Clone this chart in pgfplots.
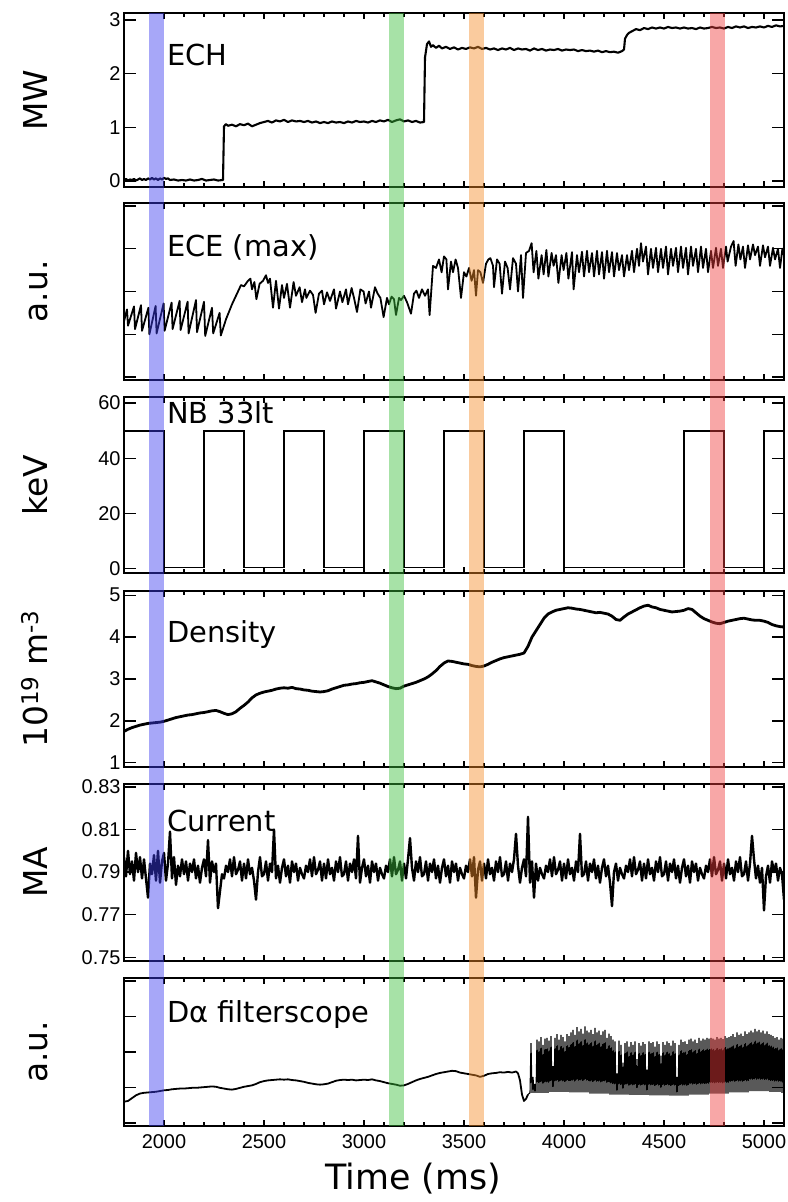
\documentclass[border=0pt]{standalone}
\usepackage{fontspec}
\setmainfont{DejaVu Sans}
\newfontfamily\tickfont{Liberation Sans}
\usepackage{pgfplots}
\pgfplotsset{compat=1.18}
\definecolor{bblue}{RGB}{60,60,240}
\definecolor{bgreen}{RGB}{60,190,60}
\definecolor{borange}{RGB}{245,140,40}
\definecolor{bred}{RGB}{240,60,60}
\tikzset{lab/.style={anchor=base west, font=\fontsize{29}{30}\selectfont, inner sep=0pt}}
\pgfplotsset{
  panel/.style={
    scale only axis, width=660bp, xmin=1800, xmax=5100,
    xtick={2000,2500,3000,3500,4000,4500,5000},
    minor x tick num=4,
    xticklabels={},
    axis line style={line width=1.6bp},
    every tick/.style={black, line width=1.3bp},
    major tick length=12bp, minor tick length=4bp,
    xtick style={/pgfplots/major tick length=6bp},
    tick label style={font=\tickfont\fontsize{20}{20}\selectfont},
    /pgf/number format/assume math mode=true,
    ylabel style={at={(rel axis cs:-0.1152,0.5)}, anchor=base, font=\fontsize{33}{34}\selectfont},
    anchor=south west,
  },
}
\begin{document}
\begin{tikzpicture}
\useasboundingbox (0bp,0bp) rectangle (788bp,1202bp);
% ---------------- ECH
\begin{axis}[panel, at={(124bp,1015bp)}, height=174bp, ymin=-0.11, ymax=3.13,
  ytick={0,1,2,3}, ylabel={MW}]
\addplot[black, line width=2.1bp, line join=round] table[row sep=\\] {x y\\
1800 0.02\\1810 0.04\\1820 0.01\\1830 0.03\\1840 0.02\\1850 0.04\\1860 0.01\\1870 0.03\\1880 0.05\\1890 0.02\\
1900 0.04\\1910 0.02\\1920 0.05\\1930 0.03\\1940 0.06\\1950 0.03\\1960 0.05\\1970 0.02\\1980 0.05\\1990 0.03\\
2000 0.06\\2010 0.04\\2020 0.05\\2030 0.02\\2050 0.03\\2070 0.01\\2090 0.02\\2110 0.01\\2130 0.03\\2150 0.01\\
2170 0.02\\2190 0.04\\2210 0.01\\2230 0.02\\2250 0.03\\2270 0.01\\2295 0.02\\2300 1.02\\2310 1.06\\2320 1.03\\
2340 1.05\\2360 1.02\\2380 1.06\\2400 1.04\\2420 1.07\\2440 1.02\\2460 1.05\\2480 1.08\\2500 1.10\\2520 1.12\\
2540 1.09\\2560 1.13\\2580 1.11\\2600 1.14\\2620 1.10\\2640 1.13\\2660 1.11\\2680 1.12\\2700 1.10\\2720 1.12\\
2740 1.09\\2760 1.11\\2780 1.08\\2800 1.10\\2820 1.08\\2840 1.11\\2860 1.09\\2880 1.10\\2900 1.08\\2920 1.11\\
2940 1.09\\2960 1.12\\2980 1.10\\3000 1.11\\3020 1.09\\3040 1.12\\3060 1.10\\3080 1.13\\3100 1.11\\3120 1.14\\
3140 1.10\\3160 1.13\\3180 1.15\\3200 1.11\\3220 1.13\\3240 1.10\\3260 1.12\\3280 1.09\\3300 1.10\\3305 2.30\\
3315 2.55\\3325 2.60\\3335 2.50\\3345 2.53\\3360 2.48\\3375 2.52\\3390 2.47\\3410 2.50\\3430 2.46\\3450 2.49\\
3470 2.45\\3490 2.48\\3510 2.46\\3530 2.49\\3550 2.47\\3570 2.50\\3590 2.46\\3610 2.48\\3630 2.45\\3650 2.47\\
3670 2.44\\3690 2.47\\3710 2.45\\3730 2.48\\3750 2.44\\3770 2.47\\3790 2.45\\3810 2.46\\3830 2.43\\3850 2.47\\
3870 2.44\\3890 2.46\\3910 2.43\\3930 2.45\\3950 2.44\\3970 2.46\\3990 2.43\\4010 2.45\\4030 2.44\\4050 2.45\\
4070 2.42\\4090 2.44\\4110 2.42\\4130 2.43\\4150 2.41\\4170 2.43\\4190 2.40\\4210 2.42\\4230 2.40\\4250 2.41\\
4270 2.39\\4290 2.42\\4300 2.45\\4305 2.65\\4315 2.72\\4325 2.76\\4340 2.79\\4360 2.83\\4380 2.81\\4400 2.85\\
4420 2.83\\4440 2.86\\4460 2.84\\4480 2.86\\4500 2.84\\4520 2.87\\4540 2.85\\4560 2.86\\4580 2.84\\4600 2.86\\
4620 2.84\\4640 2.85\\4660 2.83\\4680 2.86\\4700 2.84\\4720 2.85\\4740 2.87\\4760 2.85\\4780 2.86\\4800 2.84\\
4820 2.87\\4840 2.85\\4860 2.88\\4880 2.86\\4900 2.88\\4920 2.85\\4940 2.87\\4960 2.86\\4980 2.88\\5000 2.86\\
5020 2.89\\5040 2.87\\5060 2.90\\5080 2.88\\5100 2.89\\
};
\node[lab] at (rel axis cs:0.065,0.701) {ECH};
\coordinate (TOP) at (rel axis cs:0,1);
\end{axis}
% ---------------- ECE
\begin{axis}[panel, at={(124bp,822bp)}, height=177bp, ymin=-0.07, ymax=4.07,
  ytick={0,1,2,3,4}, yticklabels={}, ylabel={a.u.}]
\addplot[black, line width=1.8bp, line join=round] table[row sep=\\] {x y\\
1800 1.30\\1815 1.58\\1820 1.20\\1850 1.65\\1855 1.12\\1885 1.68\\1890 1.08\\1922 1.62\\1927 1.00\\1958 1.66\\
1963 1.02\\1998 1.72\\2003 1.08\\2038 1.74\\2043 1.12\\2078 1.78\\2083 1.10\\2118 1.76\\2123 1.02\\2160 1.80\\
2165 1.05\\2200 1.76\\2206 0.96\\2240 1.62\\2246 1.02\\2278 1.50\\2284 0.97\\2310 1.35\\2340 1.70\\2365 1.95\\
2385 2.15\\2400 2.12\\2420 2.25\\2432 2.30\\2440 2.05\\2452 2.22\\2462 1.82\\2478 2.18\\2495 2.25\\2510 2.38\\
2520 2.20\\2530 2.30\\2545 1.62\\2560 2.25\\2575 1.60\\2590 2.15\\2600 1.85\\2615 2.18\\2630 1.62\\2648 2.22\\
2660 1.90\\2678 2.10\\2690 1.75\\2705 2.05\\2712 1.85\\2730 2.02\\2745 1.92\\2758 1.50\\2775 1.95\\2790 2.02\\
2800 1.70\\2815 1.98\\2830 1.78\\2850 2.05\\2860 1.60\\2880 2.00\\2892 1.75\\2910 2.05\\2920 1.70\\2938 2.08\\
2950 1.85\\2965 1.52\\2982 2.05\\2998 2.00\\3008 1.72\\3025 2.00\\3035 1.62\\3055 2.10\\3068 1.95\\3082 1.85\\
3098 1.40\\3115 1.85\\3125 1.70\\3138 1.88\\3150 1.82\\3160 1.45\\3175 1.85\\3185 1.80\\3200 1.90\\3215 1.75\\
3235 1.48\\3250 1.95\\3262 2.02\\3275 1.85\\3290 2.05\\3305 1.90\\3320 2.05\\3328 1.45\\3345 2.60\\3360 2.55\\
3375 2.75\\3388 2.45\\3400 2.82\\3412 2.75\\3420 2.05\\3435 2.70\\3445 2.45\\3458 2.75\\3470 2.55\\3485 1.85\\
3500 2.45\\3512 2.35\\3525 2.55\\3538 2.25\\3550 2.50\\3560 1.90\\3570 2.50\\3582 2.45\\3595 2.20\\3610 2.65\\
3622 2.75\\3632 2.78\\3645 2.60\\3650 2.10\\3665 2.75\\3678 2.65\\3690 1.95\\3705 2.70\\3718 2.55\\3730 2.05\\
3745 2.78\\3760 2.65\\3770 2.00\\3785 2.85\\3795 1.85\\3810 2.90\\3825 2.95\\3838 3.13\\3848 2.45\\3862 2.95\\
3872 2.30\\3888 2.85\\3898 2.40\\3912 2.97\\3922 2.35\\3938 2.90\\3948 2.60\\3960 2.85\\3972 2.20\\3988 2.85\\
3998 2.50\\4012 2.90\\4022 2.30\\4040 2.92\\4048 2.05\\4065 2.85\\4075 2.45\\4090 2.93\\4100 2.35\\4115 2.95\\
4125 2.45\\4140 2.90\\4150 2.35\\4165 2.95\\4175 2.40\\4190 2.92\\4200 2.30\\4215 2.95\\4225 2.45\\4240 2.92\\
4250 2.35\\4265 2.90\\4275 2.50\\4290 2.85\\4300 2.35\\4315 2.85\\4325 2.50\\4340 2.95\\4350 2.45\\4365 3.00\\
4375 2.60\\4385 3.13\\4395 2.70\\4410 3.05\\4420 2.40\\4435 3.00\\4445 2.55\\4460 3.02\\4470 2.45\\4485 3.00\\
4495 2.55\\4510 3.05\\4520 2.40\\4535 3.00\\4545 2.60\\4560 3.02\\4570 2.45\\4585 3.05\\4595 2.55\\4610 3.02\\
4620 2.40\\4635 3.05\\4645 2.60\\4660 3.00\\4670 2.45\\4685 3.05\\4695 2.55\\4710 3.00\\4720 2.45\\4735 2.95\\
4745 2.55\\4760 3.02\\4770 2.60\\4785 3.00\\4795 2.55\\4810 3.05\\4818 2.70\\4835 3.05\\4848 3.18\\4858 2.60\\
4872 3.10\\4882 2.75\\4895 3.05\\4905 2.55\\4920 3.08\\4930 2.75\\4945 3.10\\4955 2.85\\4970 3.05\\4980 2.60\\
4995 3.08\\5005 2.80\\5020 3.05\\5030 2.60\\5045 3.02\\5055 2.75\\5070 3.00\\5080 2.55\\5092 3.00\\5100 2.85\\
};
\node[lab] at (rel axis cs:0.065,0.695) {ECE (max)};
\end{axis}
% ---------------- NB
\begin{axis}[panel, at={(124bp,629bp)}, height=176bp, ymin=-1.5, ymax=62.2,
  ytick={0,20,40,60}, ylabel={keV}]
\addplot[black, line width=1.9bp] table[row sep=\\] {x y\\
1800 50\\2000 50\\2000 0.5\\2200 0.5\\2200 50\\2400 50\\2400 0.5\\2600 0.5\\2600 50\\2800 50\\
2800 0.5\\3000 0.5\\3000 50\\3200 50\\3200 0.5\\3400 0.5\\3400 50\\3600 50\\3600 0.5\\3800 0.5\\
3800 50\\4000 50\\4000 0.5\\4600 0.5\\4600 50\\4800 50\\4800 0.5\\5000 0.5\\5000 50\\5100 50\\
};
\node[lab] at (rel axis cs:0.065,0.852) {NB 33lt};
\end{axis}
% ---------------- Density
\begin{axis}[panel, at={(124bp,435bp)}, height=176bp, ymin=0.9, ymax=5.1,
  ytick={1,2,3,4,5}, ylabel={10\textsuperscript{19} m\textsuperscript{-3}}]
\addplot[black, line width=2.8bp, line join=round] table[row sep=\\] {x y\\
1800 1.75\\1820 1.80\\1840 1.84\\1860 1.87\\1880 1.90\\1900 1.92\\1920 1.94\\1940 1.95\\1960 1.96\\1980 1.97\\
2000 1.99\\2020 2.02\\2040 2.05\\2060 2.08\\2080 2.10\\2100 2.12\\2120 2.14\\2140 2.15\\2160 2.17\\2180 2.19\\
2200 2.20\\2220 2.22\\2240 2.24\\2260 2.25\\2280 2.22\\2300 2.18\\2320 2.15\\2340 2.17\\2360 2.22\\2380 2.30\\
2400 2.37\\2420 2.45\\2440 2.55\\2460 2.62\\2480 2.66\\2500 2.69\\2520 2.71\\2540 2.73\\2560 2.76\\2580 2.78\\
2600 2.79\\2620 2.78\\2640 2.80\\2660 2.77\\2680 2.76\\2700 2.74\\2720 2.73\\2740 2.71\\2760 2.70\\2780 2.69\\
2800 2.70\\2820 2.72\\2840 2.76\\2860 2.79\\2880 2.82\\2900 2.85\\2920 2.86\\2940 2.88\\2960 2.89\\2980 2.91\\
3000 2.92\\3020 2.94\\3040 2.96\\3060 2.93\\3080 2.90\\3100 2.86\\3120 2.82\\3140 2.79\\3160 2.77\\3180 2.78\\
3200 2.83\\3220 2.86\\3240 2.89\\3260 2.92\\3280 2.96\\3300 3.00\\3320 3.05\\3340 3.12\\3360 3.20\\3380 3.30\\
3400 3.38\\3420 3.43\\3440 3.42\\3460 3.40\\3480 3.38\\3500 3.36\\3520 3.35\\3540 3.32\\3560 3.30\\3580 3.29\\
3600 3.31\\3620 3.35\\3640 3.40\\3660 3.44\\3680 3.48\\3700 3.51\\3720 3.53\\3740 3.55\\3760 3.57\\3780 3.59\\
3800 3.62\\3820 3.78\\3840 4.00\\3860 4.15\\3880 4.30\\3900 4.45\\3920 4.55\\3940 4.60\\3960 4.64\\3980 4.66\\
4000 4.68\\4020 4.70\\4040 4.69\\4060 4.67\\4080 4.66\\4100 4.64\\4120 4.62\\4140 4.60\\4160 4.58\\4180 4.59\\
4200 4.57\\4220 4.55\\4240 4.50\\4260 4.42\\4280 4.40\\4300 4.48\\4320 4.55\\4340 4.60\\4360 4.65\\4380 4.70\\
4400 4.74\\4420 4.76\\4440 4.72\\4460 4.70\\4480 4.66\\4500 4.64\\4520 4.62\\4540 4.60\\4560 4.61\\4580 4.62\\
4600 4.64\\4620 4.68\\4640 4.66\\4660 4.58\\4680 4.50\\4700 4.44\\4720 4.40\\4740 4.36\\4760 4.33\\4780 4.32\\
4800 4.35\\4820 4.38\\4840 4.40\\4860 4.42\\4880 4.44\\4900 4.45\\4920 4.43\\4940 4.41\\4960 4.40\\4980 4.40\\
5000 4.38\\5020 4.35\\5040 4.30\\5060 4.27\\5080 4.25\\5100 4.24\\
};
\node[lab] at (rel axis cs:0.065,0.705) {Density};
\end{axis}
% ---------------- Current
\begin{axis}[panel, at={(124bp,241bp)}, height=177bp, ymin=0.7482, ymax=0.8314,
  ytick={0.75,0.77,0.79,0.81,0.83}, yticklabels={0.75,0.77,0.79,0.81,0.83}, ylabel={MA}]
\addplot[black, line width=2.4bp, line join=round] table[row sep=\\] {x y\\
1800 0.797\\1810 0.788\\1820 0.800\\1830 0.789\\1840 0.795\\1850 0.786\\1860 0.799\\1870 0.790\\1880 0.797\\1890 0.787\\
1900 0.796\\1910 0.787\\1920 0.778\\1930 0.794\\1940 0.789\\1950 0.798\\1960 0.786\\1970 0.800\\1980 0.785\\1990 0.795\\
2000 0.799\\2010 0.786\\2020 0.794\\2030 0.809\\2040 0.787\\2050 0.797\\2060 0.784\\2070 0.793\\2080 0.788\\2090 0.796\\
2100 0.789\\2110 0.795\\2120 0.786\\2130 0.794\\2140 0.790\\2150 0.796\\2160 0.787\\2170 0.793\\2180 0.785\\2190 0.792\\
2200 0.796\\2210 0.788\\2220 0.805\\2230 0.785\\2240 0.795\\2250 0.790\\2260 0.794\\2270 0.773\\2280 0.781\\2290 0.789\\
2300 0.787\\2310 0.793\\2320 0.790\\2330 0.796\\2340 0.788\\2350 0.797\\2360 0.789\\2370 0.791\\2380 0.795\\2390 0.786\\
2400 0.794\\2410 0.787\\2420 0.796\\2430 0.789\\2440 0.792\\2450 0.786\\2460 0.777\\2470 0.790\\2480 0.797\\2490 0.788\\
2500 0.789\\2510 0.795\\2520 0.786\\2530 0.794\\2540 0.790\\2550 0.810\\2560 0.787\\2570 0.793\\2580 0.785\\2590 0.792\\
2600 0.796\\2610 0.788\\2620 0.793\\2630 0.785\\2640 0.795\\2650 0.790\\2660 0.794\\2670 0.786\\2680 0.792\\2690 0.789\\
2700 0.787\\2710 0.793\\2720 0.790\\2730 0.796\\2740 0.788\\2750 0.797\\2760 0.789\\2770 0.791\\2780 0.795\\2790 0.786\\
2800 0.794\\2810 0.787\\2820 0.796\\2830 0.789\\2840 0.792\\2850 0.786\\2860 0.795\\2870 0.790\\2880 0.797\\2890 0.788\\
2900 0.789\\2910 0.795\\2920 0.786\\2930 0.794\\2940 0.790\\2950 0.796\\2960 0.787\\2970 0.807\\2980 0.785\\2990 0.792\\
3000 0.796\\3010 0.788\\3020 0.793\\3030 0.785\\3040 0.795\\3050 0.790\\3060 0.794\\3070 0.786\\3080 0.792\\3090 0.789\\
3100 0.787\\3110 0.793\\3120 0.790\\3130 0.796\\3140 0.788\\3150 0.797\\3160 0.789\\3170 0.791\\3180 0.795\\3190 0.786\\
3200 0.794\\3210 0.787\\3220 0.796\\3230 0.806\\3240 0.792\\3250 0.786\\3260 0.795\\3270 0.790\\3280 0.797\\3290 0.788\\
3300 0.789\\3310 0.795\\3320 0.786\\3330 0.794\\3340 0.790\\3350 0.796\\3360 0.787\\3370 0.793\\3380 0.785\\3390 0.792\\
3400 0.796\\3410 0.788\\3420 0.793\\3430 0.785\\3440 0.795\\3450 0.790\\3460 0.794\\3470 0.786\\3480 0.792\\3490 0.789\\
3500 0.787\\3510 0.793\\3520 0.790\\3530 0.796\\3540 0.788\\3550 0.797\\3560 0.778\\3570 0.791\\3580 0.795\\3590 0.786\\
3600 0.794\\3610 0.787\\3620 0.796\\3630 0.789\\3640 0.792\\3650 0.786\\3660 0.795\\3670 0.790\\3680 0.797\\3690 0.788\\
3700 0.789\\3710 0.795\\3720 0.786\\3730 0.794\\3740 0.790\\3750 0.796\\3760 0.808\\3770 0.793\\3780 0.785\\3790 0.792\\
3800 0.796\\3810 0.788\\3820 0.816\\3830 0.785\\3840 0.795\\3850 0.778\\3860 0.794\\3870 0.786\\3880 0.792\\3890 0.789\\
3900 0.787\\3910 0.793\\3920 0.790\\3930 0.796\\3940 0.788\\3950 0.797\\3960 0.789\\3970 0.791\\3980 0.795\\3990 0.786\\
4000 0.794\\4010 0.787\\4020 0.796\\4030 0.789\\4040 0.792\\4050 0.786\\4060 0.795\\4070 0.790\\4080 0.808\\4090 0.788\\
4100 0.789\\4110 0.795\\4120 0.786\\4130 0.794\\4140 0.790\\4150 0.796\\4160 0.787\\4170 0.793\\4180 0.785\\4190 0.792\\
4200 0.796\\4210 0.788\\4220 0.793\\4230 0.785\\4240 0.774\\4250 0.790\\4260 0.794\\4270 0.786\\4280 0.792\\4290 0.789\\
4300 0.787\\4310 0.793\\4320 0.790\\4330 0.796\\4340 0.788\\4350 0.797\\4360 0.789\\4370 0.791\\4380 0.795\\4390 0.786\\
4400 0.794\\4410 0.787\\4420 0.796\\4430 0.789\\4440 0.792\\4450 0.786\\4460 0.795\\4470 0.790\\4480 0.797\\4490 0.788\\
4500 0.789\\4510 0.795\\4520 0.786\\4530 0.794\\4540 0.790\\4550 0.796\\4560 0.787\\4570 0.793\\4580 0.785\\4590 0.792\\
4600 0.796\\4610 0.788\\4620 0.793\\4630 0.785\\4640 0.795\\4650 0.790\\4660 0.794\\4670 0.786\\4680 0.792\\4690 0.789\\
4700 0.787\\4710 0.793\\4720 0.790\\4730 0.796\\4740 0.788\\4750 0.797\\4760 0.789\\4770 0.791\\4780 0.795\\4790 0.786\\
4800 0.794\\4810 0.787\\4820 0.796\\4830 0.789\\4840 0.792\\4850 0.786\\4860 0.795\\4870 0.790\\4880 0.797\\4890 0.788\\
4900 0.789\\4910 0.795\\4920 0.786\\4930 0.794\\4940 0.807\\4950 0.796\\4960 0.787\\4970 0.793\\4980 0.785\\4990 0.792\\
5000 0.772\\5010 0.788\\5020 0.793\\5030 0.785\\5040 0.795\\5050 0.790\\5060 0.794\\5070 0.786\\5080 0.792\\5090 0.789\\
5100 0.777\\
};
\node[lab] at (rel axis cs:0.065,0.734) {Current};
\end{axis}
% ---------------- D-alpha
\begin{axis}[panel, at={(124bp,76bp)}, height=148bp, ymin=-0.085, ymax=4.085,
  ytick={0,1,2,3,4}, yticklabels={}, ylabel={a.u.},
  xticklabels={2000,2500,3000,3500,4000,4500,5000},
  xticklabel style={yshift=-5bp},
  xlabel={Time (ms)},
  xlabel style={at={(rel axis cs:0.438,-0.432)}, anchor=base, font=\fontsize{35}{36}\selectfont}]
\addplot[black, line width=1.8bp, line join=round] table[row sep=\\] {x y\\
1800 0.60\\1820 0.62\\1840 0.70\\1860 0.78\\1880 0.83\\1900 0.85\\1920 0.86\\1940 0.87\\1960 0.88\\1980 0.90\\
2000 0.92\\2020 0.93\\2040 0.95\\2060 0.96\\2080 0.97\\2100 0.97\\2120 0.98\\2140 0.99\\2160 0.99\\2180 1.00\\
2200 1.01\\2220 1.02\\2240 1.03\\2260 1.02\\2280 0.99\\2300 0.97\\2320 0.95\\2340 0.94\\2360 0.96\\2380 0.99\\
2400 1.02\\2420 1.04\\2440 1.06\\2460 1.10\\2480 1.15\\2500 1.18\\2520 1.20\\2540 1.21\\2560 1.22\\2580 1.23\\
2600 1.22\\2620 1.23\\2640 1.21\\2660 1.20\\2680 1.18\\2700 1.16\\2720 1.13\\2740 1.11\\2760 1.09\\2780 1.08\\
2800 1.09\\2820 1.11\\2840 1.15\\2860 1.19\\2880 1.21\\2900 1.22\\2920 1.21\\2940 1.22\\2960 1.20\\2980 1.21\\
3000 1.22\\3020 1.21\\3040 1.23\\3060 1.20\\3080 1.18\\3100 1.15\\3120 1.12\\3140 1.10\\3160 1.08\\3180 1.05\\
3200 1.06\\3220 1.10\\3240 1.15\\3260 1.20\\3280 1.24\\3300 1.27\\3320 1.30\\3340 1.34\\3360 1.38\\3380 1.41\\
3400 1.43\\3420 1.45\\3440 1.47\\3460 1.46\\3480 1.42\\3500 1.40\\3520 1.38\\3540 1.36\\3560 1.34\\3580 1.30\\
3600 1.33\\3620 1.38\\3640 1.40\\3660 1.41\\3680 1.43\\3700 1.42\\3720 1.44\\3740 1.42\\3760 1.45\\3770 1.40\\
3780 1.20\\3790 0.80\\3800 0.62\\3810 0.68\\3820 0.80\\
};
\addplot[black, line width=1.1bp, line join=bevel] table[row sep=\\] {x y\\
3820 0.80\\
3830 0.85\\3835 2.25\\3840 0.85\\3845 1.30\\3850 0.85\\3855 1.10\\3860 0.85\\3865 2.35\\3870 0.85\\3875 2.30\\
3880 0.85\\3885 2.42\\3890 0.85\\3895 2.20\\3900 0.85\\3905 2.38\\3910 0.85\\3915 2.40\\3920 0.85\\3925 2.32\\
3930 0.88\\3935 2.45\\3940 0.88\\3945 1.60\\3950 0.88\\3955 2.40\\3960 0.88\\3965 2.50\\3970 0.88\\3975 2.35\\
3980 0.88\\3985 2.48\\3990 0.88\\3995 2.42\\4000 0.88\\4005 2.30\\4010 0.88\\4015 2.50\\4020 0.88\\4025 2.45\\
4030 0.86\\4035 2.55\\4040 0.86\\4045 2.62\\4050 0.86\\4055 2.48\\4060 0.86\\4065 2.70\\4070 0.86\\4075 2.58\\
4080 0.86\\4085 2.65\\4090 0.86\\4095 2.52\\4100 0.86\\4105 2.72\\4110 0.86\\4115 2.60\\4120 0.86\\4125 2.55\\
4130 0.83\\4135 2.62\\4140 0.83\\4145 2.50\\4150 0.83\\4155 2.68\\4160 0.83\\4165 2.55\\4170 0.83\\4175 2.60\\
4180 0.83\\4185 2.48\\4190 0.83\\4195 2.58\\4200 0.83\\4205 2.62\\4210 0.83\\4215 2.40\\4220 0.83\\4225 2.52\\
4230 0.80\\4235 2.45\\4240 0.80\\4245 2.35\\4250 0.80\\4255 2.30\\4260 0.80\\4265 1.40\\4270 0.80\\4275 2.32\\
4280 0.80\\4285 2.20\\4290 0.80\\4295 1.70\\4300 0.80\\4305 2.25\\4310 0.80\\4315 2.30\\4320 0.80\\4325 2.15\\
4330 0.79\\4335 2.28\\4340 0.79\\4345 2.20\\4350 0.79\\4355 2.30\\4360 0.79\\4365 1.80\\4370 0.79\\4375 2.25\\
4380 0.79\\4385 2.18\\4390 0.79\\4395 2.28\\4400 0.79\\4405 2.22\\4410 0.79\\4415 1.50\\4420 0.79\\4425 2.30\\
4430 0.78\\4435 2.25\\4440 0.78\\4445 2.28\\4450 0.78\\4455 2.15\\4460 0.78\\4465 2.30\\4470 0.78\\4475 2.22\\
4480 0.78\\4485 1.90\\4490 0.78\\4495 2.28\\4500 0.78\\4505 2.20\\4510 0.78\\4515 2.30\\4520 0.78\\4525 2.25\\
4530 0.77\\4535 2.18\\4540 0.77\\4545 2.32\\4550 0.77\\4555 2.25\\4560 0.77\\4565 1.30\\4570 0.77\\4575 2.20\\
4580 0.77\\4585 2.35\\4590 0.77\\4595 2.28\\4600 0.77\\4605 2.30\\4610 0.77\\4615 2.22\\4620 0.77\\4625 2.35\\
4630 0.80\\4635 2.38\\4640 0.80\\4645 2.30\\4650 0.80\\4655 2.35\\4660 0.80\\4665 2.25\\4670 0.80\\4675 2.40\\
4680 0.80\\4685 2.32\\4690 0.80\\4695 2.38\\4700 0.80\\4705 2.35\\4710 0.80\\4715 2.40\\4720 0.80\\4725 2.38\\
4730 0.83\\4735 2.40\\4740 0.83\\4745 2.38\\4750 0.83\\4755 2.35\\4760 0.83\\4765 2.42\\4770 0.83\\4775 2.38\\
4780 0.83\\4785 2.40\\4790 0.83\\4795 2.36\\4800 0.83\\4805 2.45\\4810 0.83\\4815 2.40\\4820 0.83\\4825 2.42\\
4830 0.86\\4835 2.45\\4840 0.86\\4845 2.50\\4850 0.86\\4855 2.42\\4860 0.86\\4865 2.55\\4870 0.86\\4875 2.48\\
4880 0.86\\4885 2.52\\4890 0.86\\4895 2.45\\4900 0.86\\4905 2.58\\4910 0.86\\4915 2.50\\4920 0.86\\4925 2.55\\
4930 0.90\\4935 2.60\\4940 0.90\\4945 2.55\\4950 0.90\\4955 2.65\\4960 0.90\\4965 2.58\\4970 0.90\\4975 2.62\\
4980 0.90\\4985 2.55\\4990 0.90\\4995 2.60\\5000 0.90\\5005 2.52\\5010 0.90\\5015 2.58\\5020 0.90\\5025 2.50\\
5030 0.88\\5035 2.48\\5040 0.88\\5045 2.45\\5050 0.88\\5055 2.40\\5060 0.88\\5065 2.42\\5070 0.88\\5075 2.35\\
5080 0.88\\5085 2.40\\5090 0.85\\5095 2.38\\5100 0.80\\
};
\node[lab] at (rel axis cs:0.065,0.696) {Dα filterscope};
\coordinate (A1) at (axis cs:1925,-0.085); \coordinate (A2) at (axis cs:2000,-0.085);
\coordinate (B1) at (axis cs:3125,-0.085); \coordinate (B2) at (axis cs:3200,-0.085);
\coordinate (C1) at (axis cs:3525,-0.085); \coordinate (C2) at (axis cs:3600,-0.085);
\coordinate (D1) at (axis cs:4730,-0.085); \coordinate (D2) at (axis cs:4805,-0.085);
\end{axis}
\fill[bblue, opacity=0.45] (A1) rectangle (A2 |- TOP);
\fill[bgreen, opacity=0.45] (B1) rectangle (B2 |- TOP);
\fill[borange, opacity=0.45] (C1) rectangle (C2 |- TOP);
\fill[bred, opacity=0.45] (D1) rectangle (D2 |- TOP);
\end{tikzpicture}
\end{document}
